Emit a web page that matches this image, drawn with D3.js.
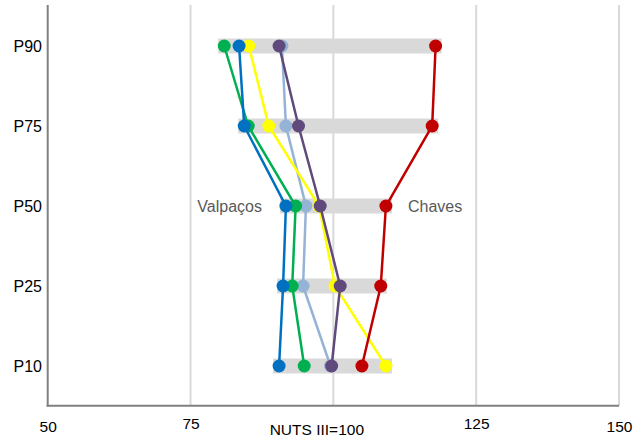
<!DOCTYPE html>
<html><head><meta charset="utf-8">
<script src="https://cdn.jsdelivr.net/npm/d3@7"></script>
<style>body{margin:0;background:#fff;}svg{display:block;font-family:"Liberation Sans",Arial,sans-serif;}</style>
</head><body>
<svg id="c" width="644" height="438"></svg>
<script>
const categories = ["P90","P75","P50","P25","P10"];
const seriesNames = ["Série A","Série B","Série C","Valpaços","Série E","Chaves"];
const seriesColors = ["#95b3d7","#00b050","#ffff00","#0070c0","#604a7b","#c00000"];
const valsA = [91.0, 91.7, 95.2, 94.7, 99.5];
const valsB = [80.9, 85.1, 93.4, 92.8, 94.9];
const valsC = [85.2, 88.7, 97.5, 100.3, 109.2];
const valsValpacos = [83.5, 84.4, 91.7, 91.2, 90.5];
const valsE = [90.5, 93.9, 97.7, 101.2, 99.7];
const valsChaves = [117.9, 117.3, 109.2, 108.3, 105.0];
const seriesValues = [valsA, valsB, valsC, valsValpacos, valsE, valsChaves];
const tickValues = [50, 75, 100, 125, 150];
const tickLabels = ["50", "75", "NUTS III=100", "125", "150"];
const annotations = [{text:"Valpaços", cat:"P50"}, {text:"Chaves", cat:"P50"}];

(function(){
const svg = d3.select("#c");
const x = d3.scaleLinear().domain([50,150]).range([47.7,619]);
const y = d3.scalePoint().domain(categories).range([46,366]);
const plotTop = 5, plotBottom = 405.7;

// gridlines
svg.append("g").selectAll("line").data(tickValues.slice(1)).join("line")
  .attr("x1", d=>x(d)).attr("x2", d=>x(d)).attr("y1", plotTop).attr("y2", plotBottom)
  .attr("stroke","#d9d9d9").attr("stroke-width",2);

// range bars
svg.append("g").selectAll("rect").data(categories).join("rect")
  .attr("x", (c,i)=>x(d3.min(seriesValues, s=>s[i]))-6)
  .attr("width", (c,i)=>x(d3.max(seriesValues, s=>s[i]))-x(d3.min(seriesValues, s=>s[i]))+12)
  .attr("y", c=>y(c)-7.5).attr("height",15).attr("fill","#d9d9d9");

// axes lines
svg.append("line").attr("x1",x(50)).attr("x2",x(50)).attr("y1",plotTop).attr("y2",plotBottom+1)
  .attr("stroke","#808080").attr("stroke-width",2);
svg.append("line").attr("x1",x(50)-1).attr("x2",x(150)).attr("y1",plotBottom).attr("y2",plotBottom)
  .attr("stroke","#808080").attr("stroke-width",2);

// x tick labels
const labelBase = [432.5, 429.5, 435.5, 429.5, 432];
const xAxis = d3.axisBottom(x).tickValues(tickValues).tickSize(0).tickFormat((d,i)=>tickLabels[i]);
const gx = svg.append("g").attr("transform",`translate(0,${plotBottom})`).call(xAxis);
gx.select(".domain").remove();
gx.selectAll("text").attr("font-size",15.5).attr("font-family","Liberation Sans, Arial, sans-serif")
  .attr("fill","#000").attr("dy",null)
  .attr("y",(d,i)=>labelBase[i]-plotBottom)
  .attr("x",(d,i)=> i===2 ? -17 : 0);

// y labels
const yAxis = d3.axisLeft(y).tickSize(0).tickPadding(0);
const gy = svg.append("g").attr("transform","translate(42,0)").call(yAxis);
gy.select(".domain").remove();
gy.selectAll("text").attr("font-size",16).attr("font-family","Liberation Sans, Arial, sans-serif")
  .attr("fill","#000").attr("x",0).attr("dy","0.36em");

// series
const line = d3.line().x(d=>x(d.v)).y(d=>y(d.c));
seriesValues.forEach((vals,si)=>{
  const pts = categories.map((c,i)=>({c, v: vals[i]}));
  const g = svg.append("g");
  g.append("path").datum(pts).attr("d",line).attr("fill","none")
    .attr("stroke",seriesColors[si]).attr("stroke-width",2.5);
  g.selectAll("circle").data(pts).join("circle")
    .attr("cx",d=>x(d.v)).attr("cy",d=>y(d.c)).attr("r",6.5).attr("fill",seriesColors[si]);
});

// annotations
svg.append("text").attr("x",262).attr("y",y(annotations[0].cat)).attr("dy","0.36em")
  .attr("text-anchor","end").attr("font-size",16).attr("fill","#595959").text(annotations[0].text);
svg.append("text").attr("x",408).attr("y",y(annotations[1].cat)).attr("dy","0.36em")
  .attr("text-anchor","start").attr("font-size",16).attr("fill","#595959").text(annotations[1].text);
})();
</script>
</body></html>
